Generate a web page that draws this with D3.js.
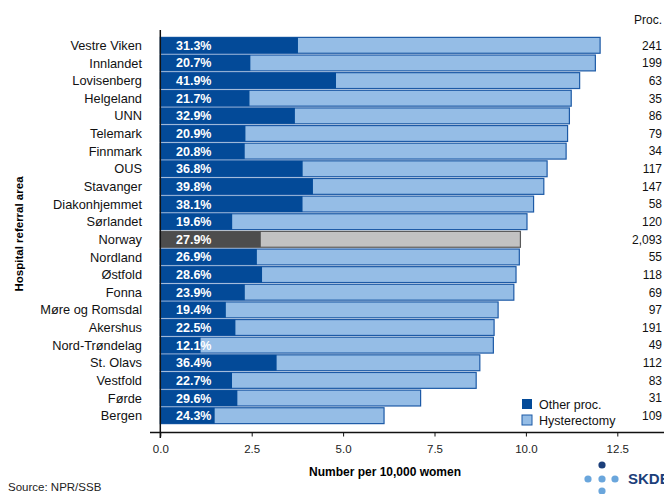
<!DOCTYPE html>
<html lang="en">
<head>
<meta charset="UTF-8">
<title>Hysterectomy per hospital referral area</title>
<script src="https://d3js.org/d3.v7.min.js"></script>
<style>
    body { margin: 0; font-family: Arial, "Liberation Sans", sans-serif; background: #fff; }
</style>
</head>
<body>
<svg id="chart" width="664" height="494"></svg>
<script>
// data
const areas = ["Vestre Viken", "Innlandet", "Lovisenberg", "Helgeland", "UNN", "Telemark", "Finnmark",
    "OUS", "Stavanger", "Diakonhjemmet", "Sørlandet", "Norway", "Nordland", "Østfold", "Fonna",
    "Møre og Romsdal", "Akershus", "Nord-Trøndelag", "St. Olavs", "Vestfold", "Førde", "Bergen"];
const totals = [12.03, 11.90, 11.47, 11.24, 11.19, 11.14, 11.10, 10.58, 10.49, 10.21, 10.03, 9.85,
    9.82, 9.73, 9.67, 9.24, 9.13, 9.11, 8.74, 8.64, 7.12, 6.12];
const otherPct = [31.3, 20.7, 41.9, 21.7, 32.9, 20.9, 20.8, 36.8, 39.8, 38.1, 19.6, 27.9,
    26.9, 28.6, 23.9, 19.4, 22.5, 12.1, 36.4, 22.7, 29.6, 24.3];
const procs = ["241", "199", "63", "35", "86", "79", "34", "117", "147", "58", "120", "2,093",
    "55", "118", "69", "97", "191", "49", "112", "83", "31", "109"];
const xTicks = [0, 2.5, 5, 7.5, 10, 12.5];

const rows = areas.map((a, i) => ({
    area: a, total: totals[i], pct: otherPct[i], other: totals[i] * otherPct[i] / 100,
    proc: procs[i], norway: a === "Norway"
}));

const svg = d3.select("#chart");
const x = d3.scaleLinear().domain([0, 12.5]).range([160.3, 617.3]);
const y = d3.scaleBand().domain(areas).range([36.5, 424.5]).paddingInner(0.1).paddingOuter(0.05);

// light bars (hysterectomy = full length)
svg.selectAll(".tot").data(rows).enter().append("rect")
    .attr("x", x(0))
    .attr("y", d => y(d.area))
    .attr("width", d => x(d.total) - x(0))
    .attr("height", y.bandwidth())
    .attr("fill", d => d.norway ? "#c2c2c2" : "#95bde6")
    .attr("stroke", d => d.norway ? "#5a5a5a" : "#1d5aa6")
    .attr("stroke-width", 1.2);

// dark bars (other proc.)
svg.selectAll(".oth").data(rows).enter().append("rect")
    .attr("x", x(0))
    .attr("y", d => y(d.area))
    .attr("width", d => x(d.other) - x(0))
    .attr("height", y.bandwidth())
    .attr("fill", d => d.norway ? "#4d4d4d" : "#034a98");

// percentage labels
svg.selectAll(".pct").data(rows).enter().append("text")
    .attr("x", 176)
    .attr("y", d => y(d.area) + y.bandwidth() / 2)
    .attr("dy", "0.36em")
    .attr("fill", "#fff")
    .style("font-size", "12.5px")
    .style("font-weight", "bold")
    .text(d => d.pct.toFixed(1) + "%");

// category labels
svg.selectAll(".lab").data(rows).enter().append("text")
    .attr("x", 142)
    .attr("y", d => y(d.area) + y.bandwidth() / 2)
    .attr("dy", "0.36em")
    .attr("text-anchor", "end")
    .style("font-size", "12.8px")
    .attr("fill", "#111")
    .text(d => d.area);

// procedure counts
svg.selectAll(".proc").data(rows).enter().append("text")
    .attr("x", 662)
    .attr("y", d => y(d.area) + y.bandwidth() / 2)
    .attr("dy", "0.36em")
    .attr("text-anchor", "end")
    .style("font-size", "12px")
    .attr("fill", "#111")
    .text(d => d.proc);

svg.append("text")
    .attr("x", 662).attr("y", 24)
    .attr("text-anchor", "end")
    .style("font-size", "12px")
    .attr("fill", "#111")
    .text("Proc.");

// axes
const xAxis = svg.append("g")
    .attr("transform", "translate(0,432.5)")
    .call(d3.axisBottom(x).tickValues(xTicks).tickFormat(d3.format(".1f")).tickSize(4).tickSizeOuter(0));
xAxis.select(".domain").attr("d", "M150,0H664").attr("stroke", "#111").attr("stroke-width", 1.5);
xAxis.selectAll(".tick line").attr("stroke", "#111");
xAxis.selectAll(".tick text").style("font-size", "11.5px").attr("fill", "#222").attr("y", 12);

svg.append("line")
    .attr("x1", x(0)).attr("x2", x(0))
    .attr("y1", 30).attr("y2", 438)
    .attr("stroke", "#111").attr("stroke-width", 1.5);

svg.append("text")
    .attr("x", 385).attr("y", 476)
    .attr("text-anchor", "middle")
    .style("font-size", "12px").style("font-weight", "bold")
    .text("Number per 10,000 women");

svg.append("text")
    .attr("transform", "translate(23,234) rotate(-90)")
    .attr("text-anchor", "middle")
    .style("font-size", "11.5px").style("font-weight", "bold")
    .text("Hospital referral area");

svg.append("text")
    .attr("x", 8).attr("y", 491)
    .style("font-size", "11.5px").attr("fill", "#222")
    .text("Source: NPR/SSB");

// legend
const legendItems = [
    { name: "Other proc.", fill: "#034a98", stroke: "none" },
    { name: "Hysterectomy", fill: "#95bde6", stroke: "#1d5aa6" }
];
const legend = svg.append("g").attr("transform", "translate(522,399)");
legendItems.forEach((it, i) => {
    const g = legend.append("g").attr("transform", `translate(0,${i * 16})`);
    g.append("rect").attr("width", 10).attr("height", 10)
        .attr("fill", it.fill).attr("stroke", it.stroke);
    g.append("text").attr("x", 17).attr("y", 5).attr("dy", "0.36em")
        .style("font-size", "12.5px").attr("fill", "#111").text(it.name);
});

// SKDE logo (cut off at the right edge, as in the original)
const logo = svg.append("g");
logo.append("circle").attr("cx", 602).attr("cy", 465).attr("r", 3.6).attr("fill", "#1c3f7a");
[[588, 479], [602, 479], [615, 479], [602, 491]].forEach(p => {
    logo.append("circle").attr("cx", p[0]).attr("cy", p[1]).attr("r", 3.6).attr("fill", "#6aa6dc");
});
logo.append("text").attr("x", 628).attr("y", 484)
    .style("font-size", "15px").style("font-weight", "bold").attr("fill", "#1c3f7a")
    .text("SKDE");
</script>
</body>
</html>
